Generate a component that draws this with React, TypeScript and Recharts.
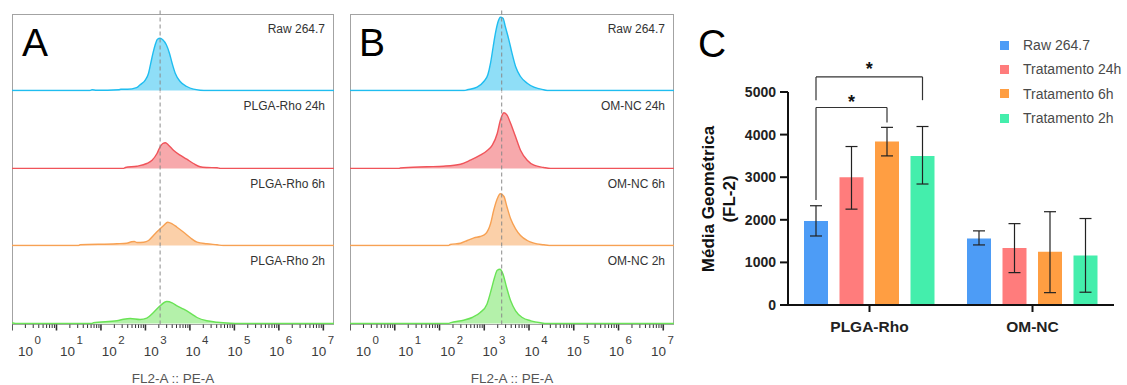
import React from 'react';
import {
  AreaChart, Area, XAxis, YAxis, ReferenceLine, BarChart, Bar, ErrorBar, Legend, ReferenceDot,
} from 'recharts';

const FONT = "'Liberation Sans', Arial, Helvetica, sans-serif";

// ---------- Histogram data (x = log10 FL2-A, y = relative count) ----------
const plgaRaw = [[0,0],[1.75,0],[1.8,0.7],[1.9,0.3],[2.4,0.8],[2.45,1.2],[2.6,1.2],[2.8,2.8],[2.88,5.7],[3.0,10.7],[3.07,17.3],[3.12,27.3],[3.17,37.3],[3.22,45.7],[3.27,51.3],[3.33,52.3],[3.39,50.7],[3.47,45.7],[3.54,37.3],[3.6,27.3],[3.67,17.3],[3.78,9],[3.93,4],[4.08,1.3],[4.23,0.3],[4.4,0],[7.24,0]];
const plga24 = [[0,0],[2.5,0],[2.55,1],[2.81,2.3],[3.03,5],[3.15,8.3],[3.26,15],[3.33,21.7],[3.39,25],[3.45,25.7],[3.52,23.3],[3.63,18.3],[3.78,13.3],[3.93,9.3],[4.08,5],[4.23,1.7],[4.38,1],[4.61,0.7],[4.7,0],[7.24,0]];
const plga6 = [[0,0],[1.5,0],[1.53,0.7],[2.36,1.7],[2.58,2.3],[2.69,3.7],[2.75,4],[2.81,3],[2.96,3.3],[3.07,5],[3.18,10],[3.29,15],[3.41,20],[3.5,23.3],[3.6,21.7],[3.71,18.3],[3.86,13.3],[4.01,7.7],[4.16,3.3],[4.38,1.7],[4.61,0.7],[4.75,0],[7.24,0]];
const plga2 = [[0,0.8],[0.08,0],[1.8,0],[1.83,0.7],[2.36,2.7],[2.51,4.3],[2.66,5],[2.88,4],[3.03,5.3],[3.18,11],[3.33,17.7],[3.48,22],[3.6,20.7],[3.71,17.7],[3.86,14.3],[4.01,10.3],[4.16,6],[4.38,2.7],[4.61,1.3],[4.91,0.3],[5.1,0],[7.24,0]];

const omRaw = [[0,0],[2.55,0],[2.62,0.7],[2.84,3.3],[2.99,9],[3.08,15.7],[3.14,27.3],[3.2,44],[3.25,57.3],[3.31,69],[3.36,73.3],[3.42,72.3],[3.47,64],[3.55,50.7],[3.62,37.3],[3.7,24],[3.81,14],[3.96,7.3],[4.11,3.3],[4.33,0.7],[4.45,0],[7.24,0]];
const om24 = [[0,0],[1.1,0],[1.12,0.5],[1.72,1.7],[2.09,2.3],[2.47,4.3],[2.69,8.3],[2.91,13.3],[3.06,17.7],[3.18,23.3],[3.29,35],[3.36,48.3],[3.44,55.7],[3.51,53.3],[3.59,45],[3.7,31.7],[3.81,18.3],[3.96,8.3],[4.11,3.3],[4.33,1],[4.48,0],[7.24,0]];
const om6 = [[0,0],[2.2,0],[2.24,1],[2.47,2.3],[2.62,5],[2.77,7.7],[2.91,9],[3.03,11.7],[3.14,21.7],[3.21,35],[3.29,46.7],[3.36,51.7],[3.44,49],[3.51,38.3],[3.59,26.7],[3.7,16.7],[3.81,10],[3.96,5],[4.11,2.3],[4.33,0.7],[4.45,0],[7.24,0]];
const om2 = [[0,0],[2.2,0],[2.24,0.7],[2.54,3.3],[2.73,6],[2.91,11],[3.06,19.3],[3.15,32.7],[3.23,46],[3.29,53.3],[3.35,54.3],[3.42,49.3],[3.5,36],[3.59,22.7],[3.7,12.7],[3.85,6],[4.04,2.7],[4.26,0.7],[4.4,0],[7.24,0]];

const histLabelsA = ['Raw 264.7', 'PLGA-Rho 24h', 'PLGA-Rho 6h', 'PLGA-Rho 2h'];
const histLabelsB = ['Raw 264.7', 'OM-NC 24h', 'OM-NC 6h', 'OM-NC 2h'];
const histStroke = ['#1fbdf0', '#f0545a', '#f7a153', '#6ae356'];
const gateA = 3.33;
const gateB = 3.39;
const X_MAX = 7.24;
const decades = [0, 1, 2, 3, 4, 5, 6, 7];
const minorMult = [2, 3, 4, 5, 6, 7, 8, 9];
const logTicks = [
  ...decades,
  ...decades.slice(0, 7).flatMap((d) => minorMult.map((k) => d + Math.log10(k))),
].sort((a, b) => a - b);

// ---------- Bar chart data ----------
const groups = ['PLGA-Rho', 'OM-NC'];
const seriesNames = ['Raw 264.7', 'Tratamento 24h', 'Tratamento 6h', 'Tratamento 2h'];
const seriesKeys = ['raw', 't24', 't6', 't2'];
const seriesColors = ['#4d9cf6', '#ff7c7c', '#ff9e42', '#44eeac'];
const meanRaw = [1970, 1560];
const mean24 = [3000, 1340];
const mean6 = [3840, 1250];
const mean2 = [3500, 1160];
const lowRaw = [1620, 1410];
const highRaw = [2330, 1740];
const low24 = [2250, 760];
const high24 = [3720, 1910];
const low6 = [3500, 290];
const high6 = [4170, 2190];
const low2 = [2840, 300];
const high2 = [4190, 2030];
const yTicks = [0, 1000, 2000, 3000, 4000, 5000];

// significance brackets in group 0 (bar indices, values in FL-2 units)
const brackets = [
  { from: 0, to: 2, top: 4636, leftEnd: 2462, rightEnd: 4285, starY: 4784, label: '*' },
  { from: 0, to: 3, top: 5354, leftEnd: 4808, rightEnd: 4808, starY: 5558, label: '*' },
];

const means = [meanRaw, mean24, mean6, mean2];
const lows = [lowRaw, low24, low6, low2];
const highs = [highRaw, high24, high6, high2];

const barData = groups.map((g, gi) => {
  const row: any = { group: g };
  seriesKeys.forEach((k, si) => {
    const m = means[si][gi];
    row[k] = m;
    row[k + 'Err'] = [m - lows[si][gi], highs[si][gi] - m];
  });
  return row;
});

const toPts = (arr: number[][]) => arr.map(([x, y]) => ({ x, y }));

// ---------- layout constants ----------
const BOX_TOP = 14;
const ROW_H = 77.5;
const AXIS_H = 61;

const BAR_SIZE = 24;
const BAR_GAP = 11.5;
const PLOT_W = 326;
const BAND = PLOT_W / groups.length;
// position of bar j (in group 0) as a fraction of the full plot width
const barCenterFrac = (j: number) => {
  const sum = seriesKeys.length * BAR_SIZE + (seriesKeys.length - 1) * BAR_GAP;
  const off = Math.floor((BAND - sum) / 2);
  return (off + BAR_SIZE / 2 + j * (BAR_SIZE + BAR_GAP)) / PLOT_W;
};

const LogTick = (props: any) => {
  const { x, y, payload } = props;
  const v = payload.value;
  const major = Math.abs(v - Math.round(v)) < 1e-6;
  const e = Math.round(v);
  return (
    <g>
      <line x1={x} x2={x} y1={y} y2={y + (major ? 6 : 3.5)} stroke="#333" strokeWidth={major ? 1.6 : 1} />
      {major && (
        <text x={x + 6 - 2.6 * e} y={y + 31} fontSize={13.5} fill="#3c3c3c" fontFamily={FONT}>
          10
          <tspan dx={1.5} dy={-12} fontSize={11.5}>{e}</tspan>
        </text>
      )}
    </g>
  );
};

function HistPanel({ left, width, series, labels, gate, letter, letterLeft }: any) {
  return (
    <>
      <div
        style={{
          position: 'absolute', left, top: BOX_TOP, width, height: ROW_H * 4 + 1,
          border: '1px solid #a3a3a3', boxSizing: 'border-box',
        }}
      />
      {series.map((s: number[][], i: number) => {
        const isFirst = i === 0;
        const isLast = i === series.length - 1;
        const extraTop = isFirst ? 5 : 0;
        return (
          <div key={i} style={{ position: 'absolute', left, top: BOX_TOP + i * ROW_H - extraTop }}>
            <AreaChart
              width={width}
              height={ROW_H + extraTop + (isLast ? AXIS_H : 0)}
              data={toPts(s)}
              margin={{ top: extraTop, right: 0, bottom: 0, left: 0 }}
            >
              <XAxis
                dataKey="x"
                type="number"
                domain={[0, X_MAX]}
                allowDataOverflow
                hide={!isLast}
                ticks={logTicks}
                interval={0}
                tick={(p: any) => <LogTick {...p} />}
                tickLine={false}
                axisLine={false}
                tickSize={0}
                tickMargin={0}
                height={AXIS_H}
                label={{
                  value: 'FL2-A :: PE-A', position: 'insideBottom', offset: 3,
                  fontSize: 13.5, fill: '#555', fontFamily: FONT,
                }}
              />
              <YAxis hide domain={[-1, ROW_H - 1]} allowDataOverflow />
              <Area
                type="monotone"
                dataKey="y"
                stroke={histStroke[i]}
                strokeWidth={1.4}
                fill={histStroke[i]}
                fillOpacity={0.5}
                isAnimationActive={false}
                dot={false}
                activeDot={false}
              />
              <ReferenceLine
                segment={[{ x: gate, y: -1 }, { x: gate, y: ROW_H - 1 + extraTop }]}
                stroke="#8a8a8a"
                strokeDasharray="4 3"
                strokeWidth={1}
                ifOverflow="visible"
              />
            </AreaChart>
          </div>
        );
      })}
      {labels.map((t: string, i: number) => (
        <div
          key={t}
          style={{
            position: 'absolute', right: 1127 - (left + width - 9), top: BOX_TOP + i * ROW_H + 8.8,
            fontSize: 12, lineHeight: '12px', color: '#333', fontFamily: FONT, whiteSpace: 'nowrap',
          }}
        >
          {t}
        </div>
      ))}
      <div
        style={{
          position: 'absolute', left: letterLeft, top: 23, fontSize: 39, lineHeight: '39px',
          color: '#000', fontFamily: FONT,
        }}
      >
        {letter}
      </div>
    </>
  );
}

const YLabel = () => (
  <g>
    <text
      x={24} y={199} transform="rotate(-90, 24, 199)" textAnchor="middle"
      fontSize={17} fontWeight="bold" fill="#111" fontFamily={FONT}
    >
      Média Geométrica
    </text>
    <text
      x={45} y={199} transform="rotate(-90, 45, 199)" textAnchor="middle"
      fontSize={17} fontWeight="bold" fill="#111" fontFamily={FONT}
    >
      (FL-2)
    </text>
  </g>
);

const LegendContent = () => (
  <div style={{ fontFamily: FONT }}>
    {seriesNames.map((n, i) => (
      <div key={n} style={{ display: 'flex', alignItems: 'center', height: 24.3 }}>
        <span style={{ width: 9, height: 9, background: seriesColors[i], marginRight: 14, display: 'inline-block' }} />
        <span style={{ fontSize: 14, color: '#4a4a4a', whiteSpace: 'nowrap' }}>{n}</span>
      </div>
    ))}
  </div>
);

function BarPanel() {
  return (
    <div style={{ position: 'absolute', left: 690, top: 0 }}>
      <BarChart
        width={437}
        height={385}
        data={barData}
        margin={{ top: 92, right: 13, bottom: 50, left: 0 }}
        barGap={BAR_GAP}
      >
        <XAxis
          dataKey="group"
          axisLine={{ stroke: '#111', strokeWidth: 2 }}
          tickLine={{ stroke: '#111', strokeWidth: 2 }}
          tickSize={7}
          tickMargin={9}
          height={30}
          tick={{ fontSize: 15.5, fontWeight: 'bold', fill: '#222', fontFamily: FONT }}
        />
        <XAxis xAxisId="pos" type="number" domain={[0, 1]} hide allowDataOverflow />
        <YAxis
          domain={[0, 5000]}
          ticks={yTicks}
          interval={0}
          width={98}
          axisLine={{ stroke: '#111', strokeWidth: 2 }}
          tickLine={{ stroke: '#111', strokeWidth: 2 }}
          tickSize={8}
          tickMargin={4}
          tick={{ fontSize: 14, fontWeight: 'bold', fill: '#222', fontFamily: FONT }}
          label={<YLabel />}
        />
        <Legend
          layout="horizontal"
          align="center"
          verticalAlign="middle"
          content={<LegendContent />}
          wrapperStyle={{ position: 'absolute', left: 310, top: 33, width: 130, height: 100 }}
        />
        {seriesKeys.map((k, i) => (
          <Bar key={k} dataKey={k} name={seriesNames[i]} fill={seriesColors[i]} barSize={BAR_SIZE} isAnimationActive={false}>
            <ErrorBar dataKey={k + 'Err'} width={6} stroke="#222" strokeWidth={1.2} direction="y" />
          </Bar>
        ))}
        {brackets.flatMap((b, bi) => {
          const x1 = barCenterFrac(b.from);
          const x2 = barCenterFrac(b.to);
          const common = { xAxisId: 'pos', stroke: '#333', strokeWidth: 1.2, ifOverflow: 'visible' as const };
          return [
            <ReferenceLine key={`h${bi}`} {...common} segment={[{ x: x1, y: b.top }, { x: x2, y: b.top }]} />,
            <ReferenceLine key={`l${bi}`} {...common} segment={[{ x: x1, y: b.top }, { x: x1, y: b.leftEnd }]} />,
            <ReferenceLine key={`r${bi}`} {...common} segment={[{ x: x2, y: b.top }, { x: x2, y: b.rightEnd }]} />,
            <ReferenceDot
              key={`s${bi}`}
              xAxisId="pos"
              x={(x1 + x2) / 2}
              y={b.starY}
              r={1}
              fill="none"
              stroke="none"
              ifOverflow="visible"
              label={{ value: b.label, position: 'center', fontSize: 18, fontWeight: 'bold', fill: '#111', fontFamily: FONT }}
            />,
          ];
        })}
      </BarChart>
    </div>
  );
}

export default function App() {
  return (
    <div style={{ position: 'absolute', left: 0, top: 0, width: 1127, height: 385, background: '#fff', overflow: 'hidden' }}>
      <HistPanel
        left={12} width={322} series={[plgaRaw, plga24, plga6, plga2]} labels={histLabelsA}
        gate={gateA} letter="A" letterLeft={22}
      />
      <HistPanel
        left={350} width={324} series={[omRaw, om24, om6, om2]} labels={histLabelsB}
        gate={gateB} letter="B" letterLeft={359}
      />
      <div
        style={{
          position: 'absolute', left: 698, top: 24, fontSize: 39, lineHeight: '39px',
          color: '#000', fontFamily: FONT,
        }}
      >
        C
      </div>
      <BarPanel />
    </div>
  );
}
